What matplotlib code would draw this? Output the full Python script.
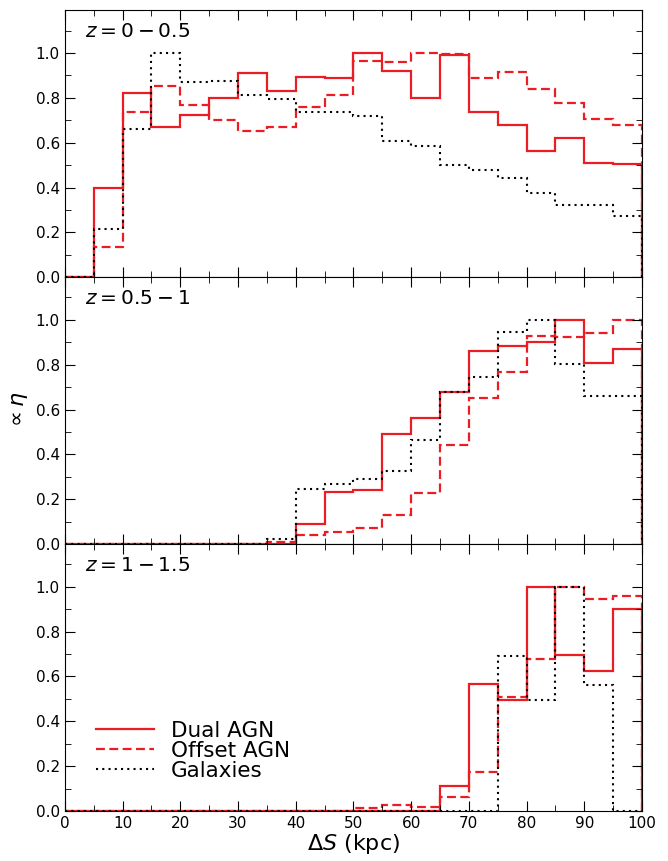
import numpy as np
import matplotlib
matplotlib.use("Agg")
import matplotlib.pyplot as plt
from matplotlib.ticker import MultipleLocator

edges = np.arange(0, 101, 5)

# z = 0 - 0.5
dual_1 = [0.0, 0.40, 0.82, 0.67, 0.725, 0.80, 0.91, 0.83, 0.893, 0.887,
          1.0, 0.92, 0.80, 0.99, 0.735, 0.68, 0.565, 0.62, 0.509, 0.506]
offset_1 = [0.0, 0.137, 0.737, 0.851, 0.766, 0.70, 0.65, 0.668, 0.76, 0.811,
            0.964, 0.96, 1.0, 0.994, 0.888, 0.914, 0.838, 0.777, 0.707, 0.677]
gal_1 = [0.0, 0.217, 0.659, 1.0, 0.87, 0.875, 0.814, 0.793, 0.738, 0.738,
         0.719, 0.607, 0.583, 0.501, 0.476, 0.443, 0.376, 0.324, 0.324, 0.272]

# z = 0.5 - 1
dual_2 = [0, 0, 0, 0, 0, 0, 0, 0, 0.092, 0.231,
          0.241, 0.491, 0.561, 0.68, 0.863, 0.884, 0.90, 1.0, 0.806, 0.872]
offset_2 = [0, 0, 0, 0, 0, 0, 0, 0.008, 0.04, 0.055,
            0.07, 0.132, 0.226, 0.44, 0.65, 0.769, 0.93, 0.924, 0.943, 1.0]
gal_2 = [0, 0, 0, 0, 0, 0, 0, 0.025, 0.247, 0.266,
         0.29, 0.326, 0.463, 0.68, 0.745, 0.948, 1.0, 0.802, 0.661, 0.661]

# z = 1 - 1.5
dual_3 = [0, 0, 0, 0, 0, 0, 0, 0, 0, 0,
          0, 0, 0, 0.113, 0.565, 0.496, 1.0, 0.696, 0.626, 0.899]
offset_3 = [0, 0, 0, 0, 0, 0, 0, 0, 0, 0,
            0.012, 0.027, 0.016, 0.064, 0.173, 0.51, 0.679, 1.0, 0.946, 0.957]
gal_3 = [0, 0, 0, 0, 0, 0, 0, 0, 0, 0,
         0, 0, 0, 0, 0, 0.692, 0.496, 1.0, 0.5625, 0.0]

panels = [
    (r"$z = 0 - 0.5$", dual_1, offset_1, gal_1),
    (r"$z = 0.5 - 1$", dual_2, offset_2, gal_2),
    (r"$z = 1 - 1.5$", dual_3, offset_3, gal_3),
]

red = "#ec1c24"

fig, axes = plt.subplots(3, 1, figsize=(6.68, 8.61), dpi=100, sharex=True)
fig.subplots_adjust(left=0.097, right=0.961, top=0.988, bottom=0.058, hspace=0)

for ax, (title, d, o, g) in zip(axes, panels):
    ax.stairs(d, edges, color=red, lw=1.6, ls="-", baseline=0)
    ax.stairs(o, edges, color=red, lw=1.6, ls=(0, (4, 2)), baseline=0)
    ax.stairs(g, edges, color="black", lw=1.5, ls=(0, (1, 2)), baseline=0)
    ax.set_xlim(0, 100)
    ax.set_ylim(0, 1.19)
    ax.xaxis.set_major_locator(MultipleLocator(10))
    ax.xaxis.set_minor_locator(MultipleLocator(5))
    ax.yaxis.set_major_locator(MultipleLocator(0.2))
    ax.yaxis.set_minor_locator(MultipleLocator(0.1))
    ax.tick_params(which="both", direction="in", top=True, right=True, labelsize=11)
    ax.tick_params(which="major", length=7)
    ax.tick_params(which="minor", length=4)
    ax.text(0.035, 0.955, title, transform=ax.transAxes, fontsize=14.5,
            va="top", ha="left")

axes[2].legend(loc="lower left", bbox_to_anchor=(0.02, 0.04), frameon=False,
               fontsize=15.5, handlelength=2.7, labelspacing=0.0,
               handles=[
                   plt.Line2D([], [], color=red, lw=1.6, ls="-"),
                   plt.Line2D([], [], color=red, lw=1.6, ls=(0, (4, 2))),
                   plt.Line2D([], [], color="black", lw=1.5, ls=(0, (1, 2))),
               ], labels=["Dual AGN", "Offset AGN", "Galaxies"])

axes[2].set_xlabel(r"$\Delta S$ (kpc)", fontsize=16, labelpad=1)
axes[1].set_ylabel(r"$\propto \eta$", fontsize=16)

fig.savefig("out.png", dpi=100)
